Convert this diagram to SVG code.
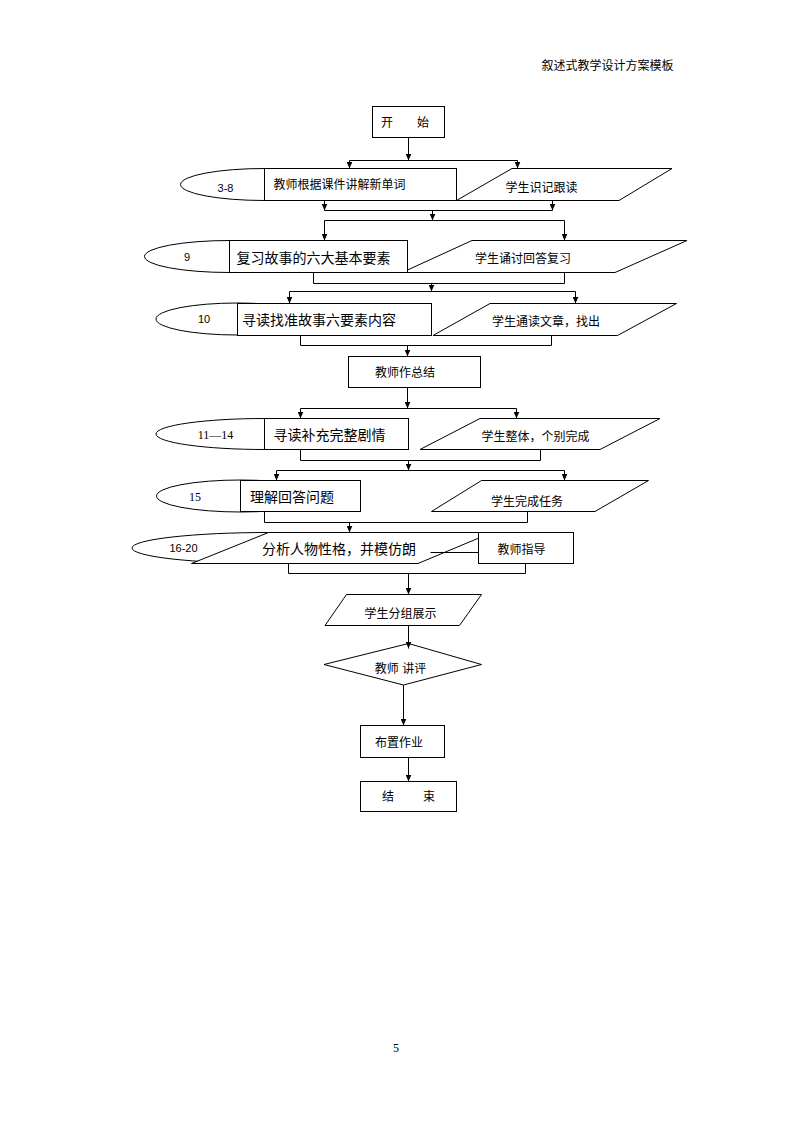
<svg xmlns="http://www.w3.org/2000/svg" width="794" height="1123" viewBox="0 0 794 1123">
<defs>
<marker id="ah" viewBox="0 0 7 6" refX="7" refY="3" markerWidth="7" markerHeight="6" markerUnits="userSpaceOnUse" orient="auto"><path d="M0,0 L7,3 L0,6 z" fill="#000"/></marker>
<style>
.s{fill:#fff;stroke:#000;stroke-width:1}
.c{fill:none;stroke:#000;stroke-width:1}
.a{marker-end:url(#ah)}
.t{font-family:"Liberation Sans","Noto Sans CJK SC",sans-serif;font-size:12px;fill:#000}
.t14{font-size:14px}
.m{text-anchor:middle}
.n{font-family:"Liberation Sans",sans-serif;font-size:11px;text-anchor:middle;fill:#000}
.ns{font-family:"Liberation Serif",serif;font-size:12px;text-anchor:middle;fill:#000}
</style>
</defs>
<rect width="794" height="1123" fill="#fff"/>
<text class="t" x="541.5" y="69.5">叙述式教学设计方案模板</text>

<g id="n-start"><rect class="s" x="372.5" y="106.5" width="72" height="31"/><text class="t" x="381" y="126.5">开　　始</text></g>

<g id="n-r1-label"><ellipse class="s" cx="264.5" cy="184.5" rx="84" ry="16"/><text class="n" x="225.5" y="192">3-8</text></g>
<g id="n-r1-student"><polygon class="s" points="456.5,200.5 512,168.5 672,168.5 619,200.5"/><text class="t m" x="541.5" y="191.5">学生识记跟读</text></g>
<g id="n-r1-teacher"><rect class="s" x="264.5" y="168.5" width="192" height="32"/><text class="t" x="273.5" y="188.5">教师根据课件讲解新单词</text></g>

<g id="n-r2-label"><ellipse class="s" cx="229.5" cy="256.5" rx="85" ry="16"/><text class="n" x="187" y="261">9</text></g>
<g id="n-r2-student"><polygon class="s" points="402,272.5 472,240.5 687,240.5 615,272.5"/><text class="t m" x="523" y="263">学生诵讨回答复习</text></g>
<g id="n-r2-teacher"><rect class="s" x="229.5" y="240.5" width="178" height="32"/><text class="t t14" x="236.5" y="262.5">复习故事的六大基本要素</text></g>

<g id="n-r3-label"><ellipse class="s" cx="237.5" cy="319" rx="81.5" ry="16"/><text class="n" x="204" y="323">10</text></g>
<g id="n-r3-student"><polygon class="s" points="433,335.5 490,303.5 676.5,303.5 617.5,335.5"/><text class="t m" x="546" y="326">学生通读文章，找出</text></g>
<g id="n-r3-teacher"><rect class="s" x="237.5" y="303.5" width="194" height="32"/><text class="t t14" x="242" y="324.5">寻读找准故事六要素内容</text></g>

<g id="n-summary"><rect class="s" x="348.5" y="356.5" width="132" height="31"/><text class="t m" x="405" y="376.5">教师作总结</text></g>

<g id="n-r4-label"><ellipse class="s" cx="264.5" cy="434" rx="108.5" ry="15.5"/><text class="ns" x="215.5" y="439">11—14</text></g>
<g id="n-r4-student"><polygon class="s" points="420,449.5 480,418.5 660,418.5 600,449.5"/><text class="t m" x="535.5" y="441">学生整体，个别完成</text></g>
<g id="n-r4-teacher"><rect class="s" x="264.5" y="418.5" width="144" height="31"/><text class="t t14" x="273.5" y="440">寻读补充完整剧情</text></g>

<g id="n-r5-label"><ellipse class="s" cx="240.5" cy="496" rx="84" ry="16"/><text class="ns" x="195" y="501">15</text></g>
<g id="n-r5-student"><polygon class="s" points="431.5,511.5 481.5,480.5 648.5,480.5 595,511.5"/><text class="t m" x="527" y="505.5">学生完成任务</text></g>
<g id="n-r5-teacher"><rect class="s" x="240.5" y="480.5" width="120" height="31"/><text class="t t14" x="250" y="502">理解回答问题</text></g>

<g id="n-r6-label"><ellipse class="s" cx="268.5" cy="548" rx="136.5" ry="15.5"/><text class="n" x="183.5" y="552">16-20</text></g>
<g id="n-r6-main"><polygon class="s" points="191.5,563.5 268.5,532.5 492,532.5 418,563.5"/><text class="t t14" x="262" y="553.5">分析人物性格，并模仿朗</text></g>
<g id="n-r6-guide"><rect class="s" x="478.5" y="532.5" width="95" height="31"/><text class="t m" x="521.5" y="553.5">教师指导</text></g>

<g id="n-show"><polygon class="s" points="325,625.5 346.5,594.5 481.5,594.5 459.5,625.5"/><text class="t m" x="400.5" y="617.5">学生分组展示</text></g>
<g id="n-review"><polygon class="s" points="324,664.5 408.5,643.5 481.5,664.5 403.5,685"/><text class="t m" x="400.5" y="672.5">教师 讲评</text></g>
<g id="n-homework"><rect class="s" x="360.5" y="725.5" width="84" height="32"/><text class="t m" x="399" y="746.5">布置作业</text></g>
<g id="n-end"><rect class="s" x="360.5" y="781.5" width="96" height="30"/><text class="t" x="382" y="801" letter-spacing="1.7">结　　束</text></g>

<g id="connectors">
<line class="c a" x1="408.5" y1="137.5" x2="408.5" y2="160.5"/>
<line class="c" x1="349.5" y1="160.5" x2="517.5" y2="160.5"/>
<line class="c a" x1="349.5" y1="160.5" x2="349.5" y2="168.5"/>
<line class="c a" x1="517.5" y1="160.5" x2="517.5" y2="168.5"/>
<line class="c a" x1="324.5" y1="200.5" x2="324.5" y2="210.5"/>
<line class="c a" x1="552.5" y1="200.5" x2="552.5" y2="210.5"/>
<line class="c" x1="324.5" y1="210.5" x2="552.5" y2="210.5"/>
<line class="c a" x1="432.5" y1="210.5" x2="432.5" y2="220.5"/>
<line class="c" x1="324.5" y1="220.5" x2="564.5" y2="220.5"/>
<line class="c a" x1="324.5" y1="220.5" x2="324.5" y2="240.5"/>
<line class="c a" x1="564.5" y1="220.5" x2="564.5" y2="240.5"/>
<path class="c" d="M313.5,272.5 V283.5 H564.5 V272.5"/>
<line class="c a" x1="431.5" y1="283.5" x2="431.5" y2="291.5"/>
<line class="c" x1="289.5" y1="291.5" x2="575.5" y2="291.5"/>
<line class="c a" x1="289.5" y1="291.5" x2="289.5" y2="303.5"/>
<line class="c a" x1="575.5" y1="291.5" x2="575.5" y2="303.5"/>
<path class="c" d="M300.5,335.5 V345.5 H551.5 V335.5"/>
<line class="c a" x1="407.5" y1="345.5" x2="407.5" y2="356.5"/>
<line class="c a" x1="407.5" y1="387.5" x2="407.5" y2="408.5"/>
<line class="c" x1="300.5" y1="408.5" x2="516.5" y2="408.5"/>
<line class="c a" x1="300.5" y1="408.5" x2="300.5" y2="418.5"/>
<line class="c a" x1="516.5" y1="408.5" x2="516.5" y2="418.5"/>
<path class="c" d="M300.5,449.5 V460.5 H540.5 V449.5"/>
<line class="c a" x1="408.5" y1="460.5" x2="408.5" y2="470.5"/>
<line class="c" x1="276.5" y1="470.5" x2="564.5" y2="470.5"/>
<line class="c a" x1="276.5" y1="470.5" x2="276.5" y2="480.5"/>
<line class="c a" x1="564.5" y1="470.5" x2="564.5" y2="480.5"/>
<path class="c" d="M264.5,511.5 V522.5 H527.5 V511.5"/>
<line class="c a" x1="349.5" y1="522.5" x2="349.5" y2="532.5"/>
<line class="c" x1="430.5" y1="552.5" x2="478.5" y2="552.5"/>
<path class="c" d="M288.5,563.5 V573.5 H525.5 V563.5"/>
<line class="c a" x1="408.5" y1="573.5" x2="408.5" y2="594.5"/>
<line class="c a" x1="408.5" y1="625.5" x2="408.5" y2="648.5"/>
<line class="c a" x1="403.5" y1="685" x2="403.5" y2="725.5"/>
<line class="c a" x1="408.5" y1="757.5" x2="408.5" y2="781.5"/>
</g>

<text x="396" y="1052" font-family="Liberation Serif" font-size="12" text-anchor="middle" fill="#000">5</text>
</svg>
